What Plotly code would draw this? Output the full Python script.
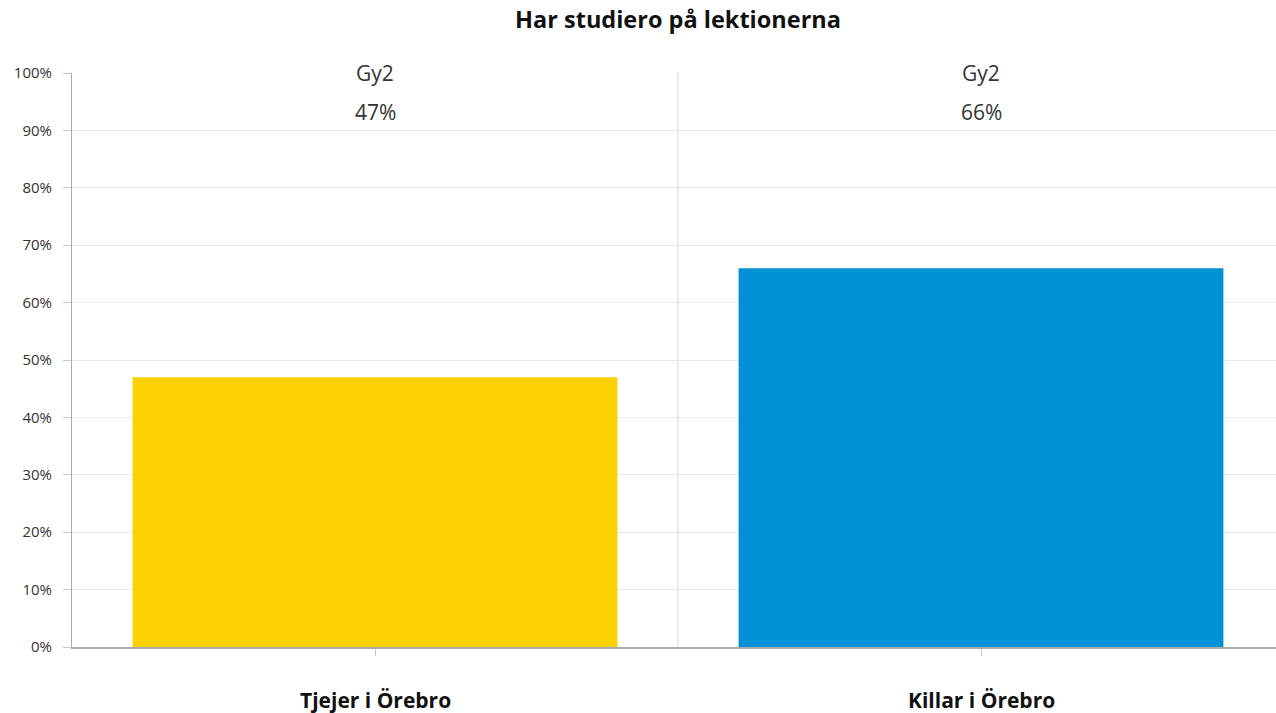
import plotly.graph_objects as go

title = "Har studiero på lektionerna"
categories = ["Tjejer i Örebro", "Killar i Örebro"]
series_name = "Gy2"
values = [47, 66]
colors = ["#FBD200", "#0091D6"]
y_ticks = [0, 10, 20, 30, 40, 50, 60, 70, 80, 90, 100]
y_tick_labels = [f"{v}%" for v in y_ticks]

W, H = 1276, 713
L, R, T, B = 72, 0, 73, 66
cat_width_px = 606
plot_w = W - L - R
x_pos = list(range(len(categories)))
x_end = -0.5 + plot_w / cat_width_px

fig = go.Figure()
fig.add_trace(go.Bar(
    x=x_pos, y=values, width=0.8,
    marker=dict(color=colors, line=dict(width=0)),
    hoverinfo="skip", showlegend=False,
))

annotations = []
for i, (c, v) in enumerate(zip(categories, values)):
    annotations.append(dict(x=i, y=1.0, xref="x", yref="paper", text=series_name,
                            showarrow=False, yanchor="middle", yshift=0,
                            font=dict(size=21, color="#333333", family="Open Sans")))
    annotations.append(dict(x=i, y=1.0, xref="x", yref="paper", text=f"{v}%",
                            showarrow=False, yanchor="middle", yshift=-39,
                            font=dict(size=21, color="#333333", family="Open Sans")))
    annotations.append(dict(x=i, y=0, xref="x", yref="paper", text=f"<b>{c}</b>",
                            showarrow=False, yanchor="middle", yshift=-53,
                            font=dict(size=21, color="#111111", family="Open Sans")))

shapes = [
    dict(type="line", xref="x", yref="paper", x0=0.5, x1=0.5, y0=0, y1=1,
         line=dict(color="#E6E6E6", width=1.5), layer="below"),
    dict(type="line", xref="paper", yref="paper", x0=(1233 - L) / plot_w, x1=1, y0=1, y1=1,
         line=dict(color="white", width=3), layer="below"),
]

fig.update_layout(
    width=W, height=H,
    margin=dict(l=L, r=R, t=T, b=B, pad=0),
    paper_bgcolor="white", plot_bgcolor="white",
    title=dict(text=f"<b>{title}</b>", x=(L + cat_width_px) / W, xref="container", xanchor="center",
               y=1 - 20 / H, yanchor="middle",
               font=dict(size=23.5, color="#111111", family="Open Sans")),
    font=dict(family="Open Sans", color="#333333"),
    bargap=0.2,
    xaxis=dict(range=[-0.5, x_end], tickvals=x_pos, ticktext=["", ""], ticks="outside",
               ticklen=7, tickcolor="#C8C8C8", tickwidth=1,
               showgrid=False, zeroline=False, showline=True, linecolor="#AAAAAA", linewidth=2,
               fixedrange=True),
    yaxis=dict(range=[0, 100], tickvals=y_ticks, ticktext=y_tick_labels, ticks="outside",
               ticklen=8, tickcolor="#C8C8C8", tickwidth=1,
               showgrid=True, gridcolor="#E8E8E8", gridwidth=1,
               zeroline=False, showline=True, linecolor="#AAAAAA", linewidth=1,
               tickfont=dict(size=15, color="#333333", family="Open Sans"),
               ticklabelstandoff=8, fixedrange=True),
    annotations=annotations,
    shapes=shapes,
)

fig.write_html("out.html", config={"displayModeBar": False},
               post_script="document.body.style.margin='0';document.body.style.overflow='hidden';")
